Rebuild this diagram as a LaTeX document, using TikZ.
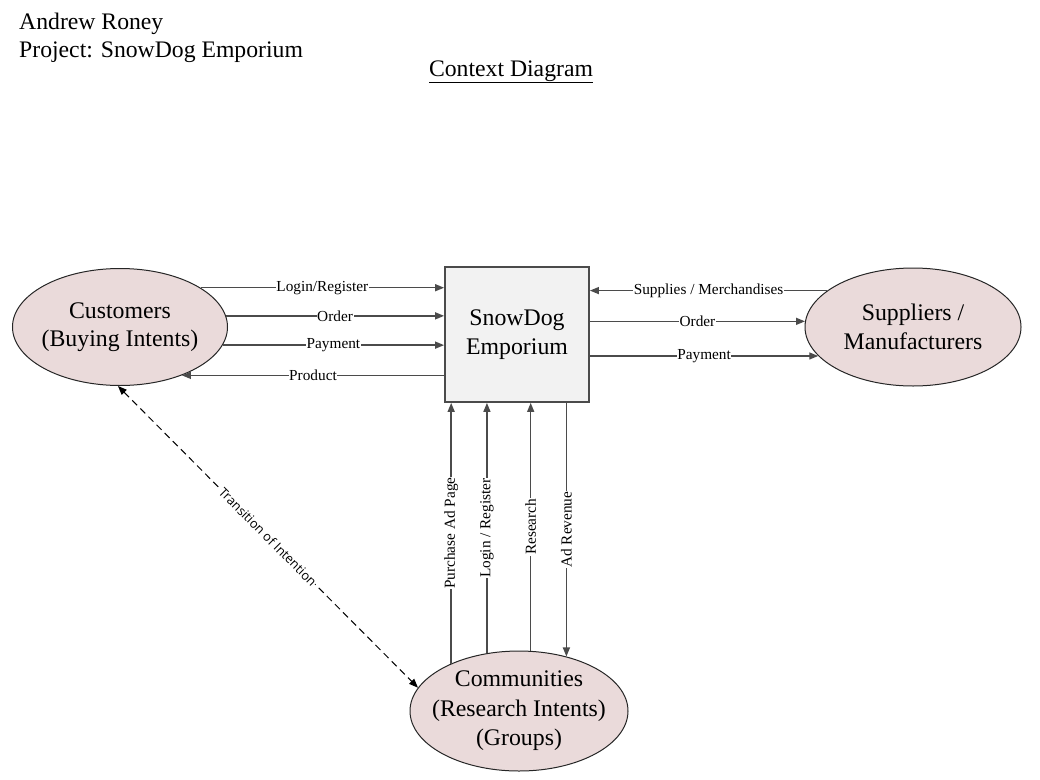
\documentclass[tikz,border=0pt]{standalone}
\usepackage{fontspec}
\setmainfont{Liberation Serif}
\newfontfamily\sansf{Open Sans}
\usetikzlibrary{arrows.meta,shapes.geometric}
\definecolor{ellfill}{RGB}{234,218,218}
\definecolor{boxfill}{RGB}{242,242,242}
\definecolor{linegray}{RGB}{75,75,75}
\tikzset{
  entity/.style={ellipse, draw=black!85, line width=1pt, fill=ellfill, inner sep=0pt},
  bigtext/.style={font=\fontsize{23.8}{28.5}\selectfont, align=center},
  procbox/.style={draw=linegray, line width=1.8pt, fill=boxfill, minimum width=144pt, minimum height=135pt, inner sep=0pt},
  flow/.style={draw=linegray, line width=1.4pt, -{Triangle[length=9pt,width=7pt]}},
  lbl/.style={fill=white, inner sep=0.6pt, font=\fontsize{15.3}{17}\selectfont, text=black},
  hdr/.style={font=\fontsize{23.7}{28}\selectfont, inner sep=0pt}
}
\begin{document}
\begin{tikzpicture}[x=1pt,y=-1pt]
\useasboundingbox (0,0) rectangle (1040,779);

% header texts
\node[hdr, anchor=base west] (author) at (19,29) {Andrew Roney};
\node[hdr, anchor=base west] (project) at (19,57) {Project: SnowDog Emporium};
\node[hdr, anchor=base] (title) at (511,76) {\underline{Context Diagram}};

% entities
\node[entity, minimum width=215pt, minimum height=117pt,
      label={[bigtext]center:Customers\\(Buying Intents)}] (cust) at (120,327) {};
\node[entity, minimum width=216pt, minimum height=118pt,
      label={[bigtext]center:Suppliers /\\Manufacturers}] (supp) at (913,327) {};
\node[entity, minimum width=218pt, minimum height=120pt,
      label={[bigtext, font=\fontsize{23.8}{29.5}\selectfont]center:Communities\\(Research Intents)\\(Groups)}] (comm) at (519,711) {};
\node[procbox, bigtext] (sys) at (517,334.5) {SnowDog\\Emporium};

% customers <-> system
\draw[flow] (cust.26.2) -- node[lbl]{Login/Register} (cust.26.2 -| sys.west);
\draw[flow] (cust.6.5) -- node[lbl]{Order} (cust.6.5 -| sys.west);
\draw[flow] (cust.-10) -- node[lbl]{Payment} (cust.-10 -| sys.west);
\draw[flow] (cust.-38.7 -| sys.west) -- node[lbl]{Product} (cust.-38.7);

% suppliers <-> system
\draw[flow] (supp.157.2) -- node[lbl]{Supplies / Merchandises} (supp.157.2 -| sys.east);
\draw[flow] (supp.177.9 -| sys.east) -- node[lbl]{Order} (supp.177.9);
\draw[flow] (supp.197.9 -| sys.east) -- node[lbl]{Payment} (supp.197.9);

% communities <-> system
\draw[flow] (comm.145.4) -- node[lbl, rotate=90]{Purchase Ad Page} (comm.145.4 |- sys.south);
\draw[flow] (comm.119.1) -- node[lbl, rotate=90]{Login / Register} (comm.119.1 |- sys.south);
\draw[flow] (comm.79.6) -- node[lbl, rotate=90]{Research} (comm.79.6 |- sys.south);
\draw[flow] (comm.49 |- sys.south) -- node[lbl, rotate=90]{Ad Revenue} (comm.49);

% customers <-> communities
\draw[draw=black, line width=1pt, dash pattern=on 7pt off 4.5pt,
      {Triangle[length=9pt,width=7pt]}-{Triangle[length=9pt,width=7pt]}]
  (cust.-92) -- node[lbl, sloped, font=\sansf\fontsize{12.8}{14}\selectfont]{Transition of Intention} (comm.167.2);
\end{tikzpicture}
\end{document}
